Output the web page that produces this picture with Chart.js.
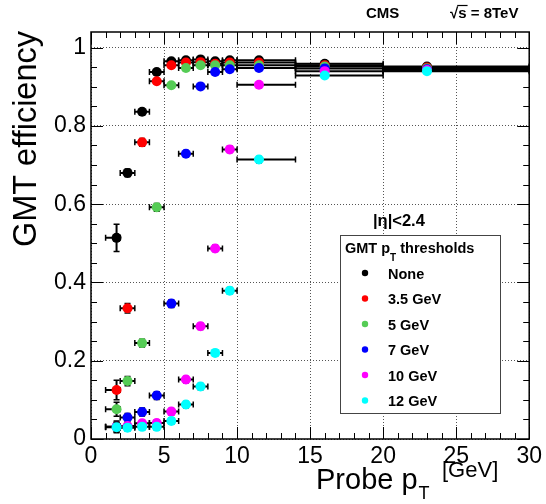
<!DOCTYPE html>
<html>
<head>
<meta charset="utf-8">
<script src="https://cdn.jsdelivr.net/npm/chart.js@4.4.0/dist/chart.umd.min.js"></script>
<style>
  html, body { margin: 0; padding: 0; background: #fff; }
  #wrap { width: 546px; height: 504px; }
</style>
</head>
<body>
<div id="wrap"><canvas id="eff" width="546" height="504"></canvas></div>
<script>
// probe pT bins [GeV]
const binLow  = [1, 2, 3, 4, 5, 6, 7, 8, 9, 10, 14, 20];
const binHigh = [2, 3, 4, 5, 6, 7, 8, 9, 10, 14, 20, 30];
const binMean = [1.75, 2.5, 3.5, 4.5, 5.5, 6.5, 7.5, 8.5, 9.5, 11.5, 16, 23];

// GMT efficiency per threshold
const effNone = [0.514, 0.680, 0.836, 0.938, 0.965, 0.968, 0.970, 0.965, 0.968, 0.968, 0.959, 0.952];
const eff35   = [0.125, 0.334, 0.758, 0.914, 0.955, 0.962, 0.963, 0.959, 0.962, 0.962, 0.955, 0.949];
const eff5    = [0.076, 0.148, 0.245, 0.592, 0.904, 0.948, 0.955, 0.955, 0.955, 0.955, 0.952, 0.947];
const eff7    = [0.031, 0.055, 0.069, 0.111, 0.346, 0.729, 0.901, 0.938, 0.945, 0.948, 0.947, 0.945];
const eff10   = [0.031, 0.033, 0.040, 0.041, 0.070, 0.152, 0.288, 0.487, 0.740, 0.905, 0.940, 0.943];
const eff12   = [0.030, 0.029, 0.031, 0.031, 0.046, 0.088, 0.134, 0.220, 0.379, 0.714, 0.929, 0.940];

// vertical (statistical) errors
const errNone = [0.035, 0.010, 0.008, 0.006, 0.004, 0.004, 0.004, 0.004, 0.004, 0.004, 0.004, 0.004];
const err35   = [0.025, 0.012, 0.010, 0.006, 0.004, 0.004, 0.004, 0.004, 0.004, 0.004, 0.004, 0.004];
const err5    = [0.018, 0.012, 0.010, 0.010, 0.006, 0.004, 0.004, 0.004, 0.004, 0.004, 0.004, 0.004];
const err7    = [0.015, 0.010, 0.010, 0.010, 0.010, 0.008, 0.006, 0.004, 0.004, 0.004, 0.004, 0.004];
const err10   = [0.012, 0.008, 0.008, 0.008, 0.008, 0.008, 0.008, 0.008, 0.008, 0.006, 0.004, 0.004];
const err12   = [0.012, 0.008, 0.008, 0.008, 0.008, 0.008, 0.008, 0.008, 0.008, 0.008, 0.004, 0.004];

const seriesLabels = ['None', '3.5 GeV', '5 GeV', '7 GeV', '10 GeV', '12 GeV'];
const seriesColors = ['#000000', '#ff0000', '#55cc55', '#0000ff', '#ff00ff', '#00ffff'];
const xTickValues = [0, 5, 10, 15, 20, 25, 30];
const yTickValues = [0, 0.2, 0.4, 0.6, 0.8, 1];

const effs = [effNone, eff35, eff5, eff7, eff10, eff12];
const errs = [errNone, err35, err5, err7, err10, err12];

const FONT = "'Liberation Sans', Arial, Helvetica, sans-serif";

const datasets = effs.map((eff, s) => ({
    label: seriesLabels[s],
    data: eff.map((v, i) => ({ x: binMean[i], y: v, xlo: binLow[i], xhi: binHigh[i], err: errs[s][i] })),
    backgroundColor: seriesColors[s],
    borderWidth: 0,
    pointRadius: 5,
    pointHoverRadius: 5,
    showLine: false,
    order: effs.length - 1 - s
}));

// ROOT style error bars, drawn just before each graph's markers
const errorBars = {
    id: 'errorBars',
    beforeDatasetDraw(chart, args) {
        const { ctx, chartArea: a, scales: { x, y } } = chart;
        const ds = chart.data.datasets[args.index];
        ctx.save();
        ctx.beginPath();
        ctx.rect(a.left, a.top, a.right - a.left, a.bottom - a.top);
        ctx.clip();
        ctx.strokeStyle = '#000';
        ds.data.forEach(p => {
            const px = x.getPixelForValue(p.x);
            const py = y.getPixelForValue(p.y);
            const x0 = x.getPixelForValue(p.xlo);
            const x1 = x.getPixelForValue(p.xhi);
            ctx.lineWidth = 2;
            ctx.beginPath();
            ctx.moveTo(x0, py); ctx.lineTo(x1, py);
            ctx.stroke();
            ctx.lineWidth = 1.5;
            ctx.beginPath();
            ctx.moveTo(x0, py - 3); ctx.lineTo(x0, py + 3);
            ctx.moveTo(x1, py - 3); ctx.lineTo(x1, py + 3);
            ctx.stroke();
            const ylo = y.getPixelForValue(p.y - p.err);
            const yhi = y.getPixelForValue(p.y + p.err);
            if (ylo - yhi > 6) {
                ctx.lineWidth = 2;
                ctx.beginPath();
                ctx.moveTo(px, ylo); ctx.lineTo(px, yhi);
                ctx.stroke();
                ctx.lineWidth = 1.5;
                ctx.beginPath();
                ctx.moveTo(px - 3, ylo); ctx.lineTo(px + 3, ylo);
                ctx.moveTo(px - 3, yhi); ctx.lineTo(px + 3, yhi);
                ctx.stroke();
            }
        });
        ctx.restore();
    }
};

// frame, inward ticks, titles, legend and labels
const decorations = {
    id: 'decorations',
    afterDraw(chart) {
        const { ctx, chartArea: a, scales: { x, y } } = chart;
        ctx.save();
        ctx.strokeStyle = '#000';
        ctx.lineWidth = 1.5;
        ctx.strokeRect(a.left, a.top, a.right - a.left, a.bottom - a.top);

        ctx.lineWidth = 1;
        ctx.beginPath();
        for (let v = 0; v <= 30; v++) {
            const px = Math.round(x.getPixelForValue(v)) + 0.5;
            const len = v % 5 === 0 ? 12 : 6;
            ctx.moveTo(px, a.bottom); ctx.lineTo(px, a.bottom - len);
            ctx.moveTo(px, a.top); ctx.lineTo(px, a.top + len);
        }
        for (let k = 0; k <= 20; k++) {
            const py = Math.round(y.getPixelForValue(k * 0.05)) + 0.5;
            const len = k % 4 === 0 ? 12 : 6;
            ctx.moveTo(a.left, py); ctx.lineTo(a.left + len, py);
            ctx.moveTo(a.right, py); ctx.lineTo(a.right - len, py);
        }
        ctx.stroke();

        ctx.fillStyle = '#000';
        // y title
        ctx.save();
        ctx.translate(36, 31);
        ctx.rotate(-Math.PI / 2);
        ctx.font = '32.5px ' + FONT;
        ctx.textAlign = 'right';
        ctx.textBaseline = 'alphabetic';
        ctx.fillText('GMT efficiency', 0, 0);
        ctx.restore();

        // x title
        ctx.textAlign = 'left';
        ctx.textBaseline = 'alphabetic';
        ctx.font = '29px ' + FONT;
        ctx.fillText('Probe p', 316, 489);
        let w = ctx.measureText('Probe p').width;
        ctx.font = '18px ' + FONT;
        ctx.fillText('T', 316 + w + 1, 499);
        ctx.font = '22px ' + FONT;
        ctx.fillText('[GeV]', 442, 477);

        // header
        ctx.font = 'bold 15px ' + FONT;
        ctx.fillText('CMS', 366, 18);
        ctx.fillText('\u221A', 450, 18);
        const sx = 450 + ctx.measureText('\u221A').width;
        ctx.fillText('s = 8TeV', sx, 18);
        ctx.lineWidth = 1.2;
        ctx.beginPath();
        ctx.moveTo(sx - 1, 5.5); ctx.lineTo(sx + ctx.measureText('s').width + 1, 5.5);
        ctx.stroke();

        // eta range
        ctx.font = 'bold 16.5px ' + FONT;
        ctx.fillText('|\u03B7|<2.4', 373, 226);

        // legend box
        ctx.fillStyle = '#fff';
        ctx.fillRect(340, 235, 160, 178);
        ctx.strokeStyle = '#444';
        ctx.lineWidth = 1;
        ctx.strokeRect(340.5, 235.5, 160, 178);
        ctx.fillStyle = '#000';
        ctx.font = 'bold 14.5px ' + FONT;
        ctx.fillText('GMT p', 345, 253);
        w = ctx.measureText('GMT p').width;
        ctx.font = 'bold 10px ' + FONT;
        ctx.fillText('T', 345 + w, 261);
        const tw = ctx.measureText('T').width;
        ctx.font = 'bold 14.5px ' + FONT;
        ctx.fillText(' thresholds', 345 + w + tw, 253);
        seriesLabels.forEach((lab, s) => {
            const cy = 273 + s * 25.5;
            ctx.fillStyle = seriesColors[s];
            ctx.beginPath();
            ctx.arc(365, cy, 3.2, 0, Math.PI * 2);
            ctx.fill();
            ctx.fillStyle = '#000';
            ctx.fillText(lab, 388, cy + 5.5);
        });
        ctx.restore();
    }
};

new Chart(document.getElementById('eff'), {
    type: 'scatter',
    data: { datasets },
    options: {
        responsive: false,
        animation: false,
        events: [],
        layout: { padding: { top: 32, right: 13, left: 0, bottom: 0 } },
        plugins: { legend: { display: false }, tooltip: { enabled: false } },
        scales: {
            x: {
                type: 'linear',
                min: 0, max: 30,
                afterBuildTicks: scale => { scale.ticks = xTickValues.map(v => ({ value: v })); },
                afterFit: scale => { scale.height = 65; },
                ticks: {
                    padding: 4,
                    color: '#000',
                    font: { family: FONT, size: 23 },
                    maxRotation: 0,
                    callback: v => String(v)
                },
                grid: { color: '#555', lineWidth: 1, drawTicks: false },
                border: { display: false, dash: [1, 2] }
            },
            y: {
                type: 'linear',
                min: 0, max: 1.04,
                afterBuildTicks: scale => { scale.ticks = yTickValues.map(v => ({ value: v })); },
                afterFit: scale => { scale.width = 91; },
                ticks: {
                    padding: 5,
                    color: '#000',
                    font: { family: FONT, size: 23 },
                    callback: v => String(Math.round(v * 10) / 10)
                },
                grid: { color: '#555', lineWidth: 1, drawTicks: false },
                border: { display: false, dash: [1, 2] }
            }
        }
    },
    plugins: [errorBars, decorations]
});
</script>
</body>
</html>
